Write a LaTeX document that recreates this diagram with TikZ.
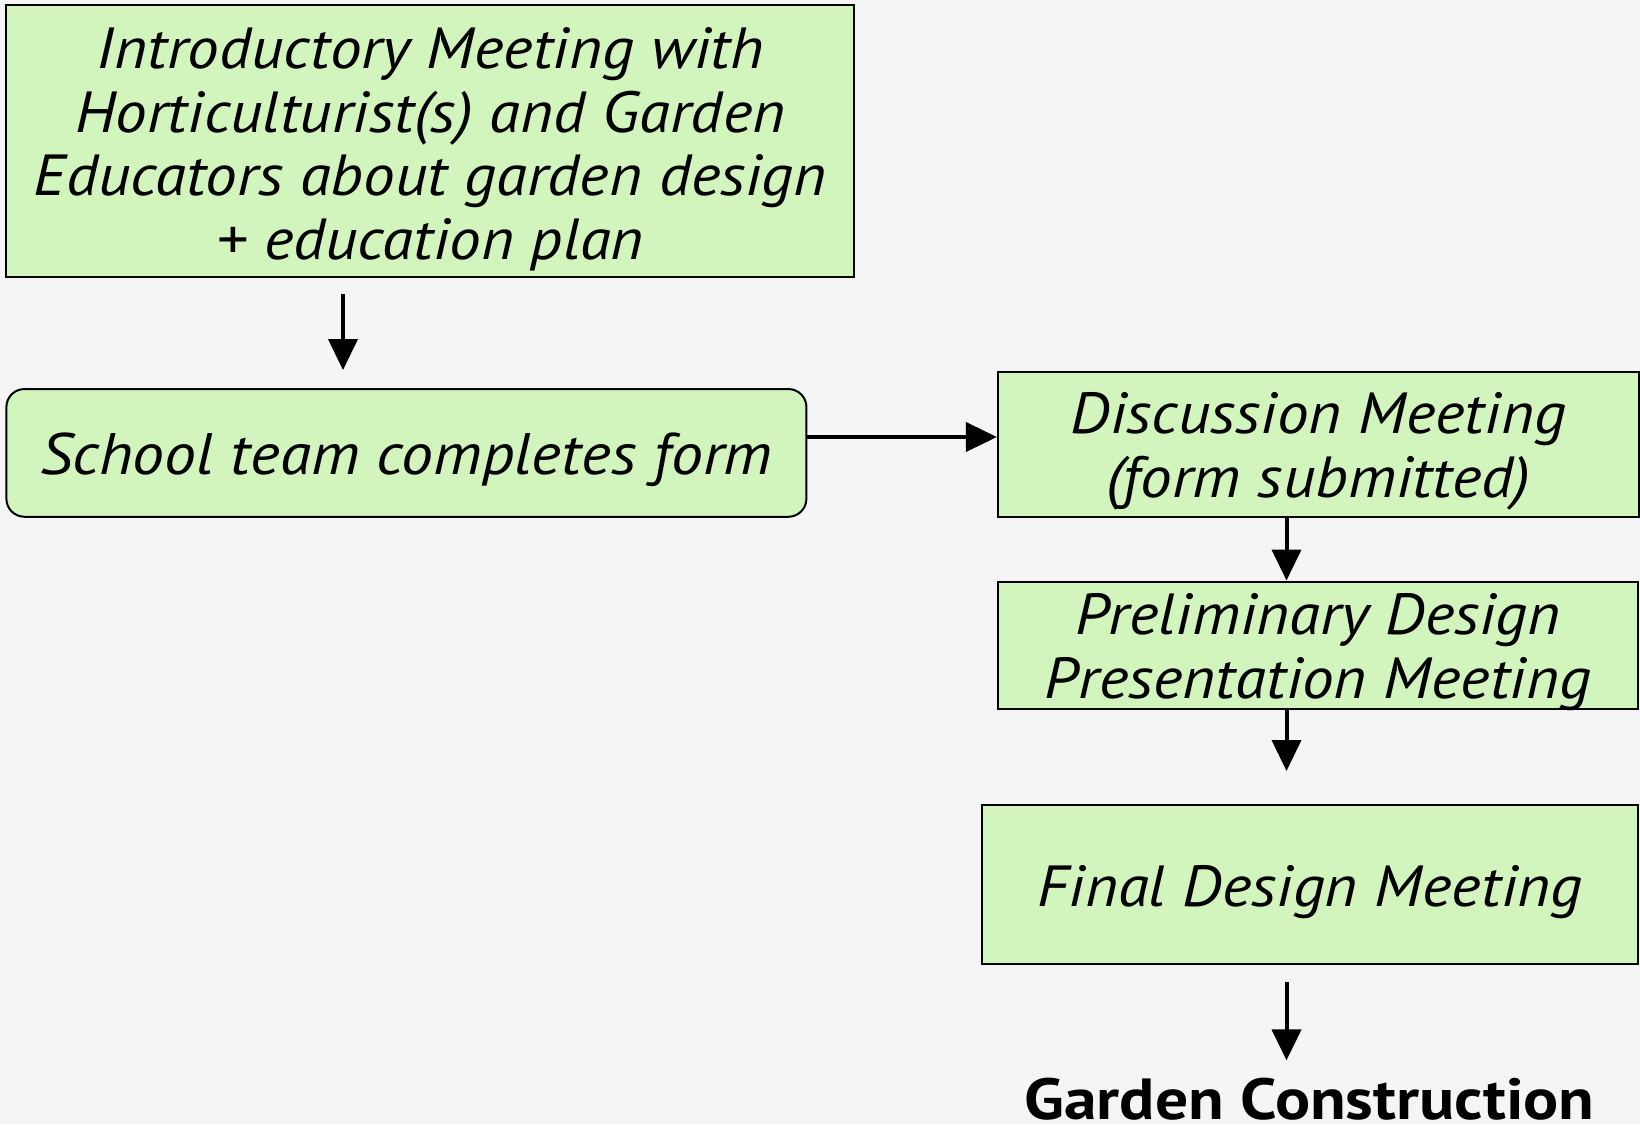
\documentclass[tikz,border=0pt]{standalone}
\usepackage{fontspec}
\setmainfont{PT Sans}[ItalicFeatures={FakeStretch=1.09}, BoldFeatures={FakeStretch=1.13}]
\usetikzlibrary{arrows.meta}
\definecolor{bg}{HTML}{F5F5F5}
\definecolor{boxgreen}{HTML}{D2F5BE}
\tikzset{
  box/.style={draw=black, line width=2pt, fill=boxgreen, inner sep=0pt},
  txt/.style={align=center, inner sep=0pt, yshift=-7pt,
    font=\fontsize{58}{63.8}\selectfont\itshape},
  arr/.style={line width=4pt, -{Triangle[length=31pt,width=29pt]}},
}
\begin{document}
\begin{tikzpicture}[x=1pt,y=-1pt]
\fill[bg] (0,0) rectangle (1640,1124);
\useasboundingbox (0,0) rectangle (1640,1124);
\node[box, minimum width=848pt, minimum height=272pt,
  label={[txt, yshift=-1pt]center:{Introductory Meeting with\\Horticulturist(s) and Garden\\Educators about garden design\\+ education plan}}]
  (intro) at (430.4,141.2) {};
\node[box, rounded corners=18pt, minimum width=800pt, minimum height=127.7pt,
  label={[txt, font=\fontsize{58.5}{64}\selectfont\itshape]center:{School team completes form}}]
  (form) at (406.4,452.9) {};
\node[box, minimum width=641pt, minimum height=144.4pt,
  label={[txt]center:{Discussion Meeting\\(form submitted)}}]
  (disc) at (1318.4,444.5) {};
\node[box, minimum width=640pt, minimum height=127.5pt,
  label={[txt]center:{Preliminary Design\\Presentation Meeting}}]
  (prel) at (1318,645.3) {};
\node[box, minimum width=656pt, minimum height=159pt,
  label={[txt, yshift=-1pt]center:{Final Design Meeting}}]
  (final) at (1310,884.5) {};
\node[font=\fontsize{58}{63}\selectfont\bfseries, inner sep=0pt, anchor=base] (build) at (1309.5,1119)
  {Garden Construction};
\coordinate (ax) at (343,0);
\coordinate (ay) at (0,437);
\coordinate (bx) at (1286.5,0);
\draw[arr, shorten <=16pt, shorten >=18pt] (intro.south -| ax) -- (form.north -| ax);
\draw[arr] (form.east |- ay) -- (disc.west |- ay);
\draw[arr] (disc.south -| bx) -- (prel.north -| bx);
\draw[arr, shorten >=33pt] (prel.south -| bx) -- (final.north -| bx);
\draw[arr, shorten <=17pt, shorten >=17pt] (final.south -| bx) -- (build.north -| bx);
\end{tikzpicture}
\end{document}
